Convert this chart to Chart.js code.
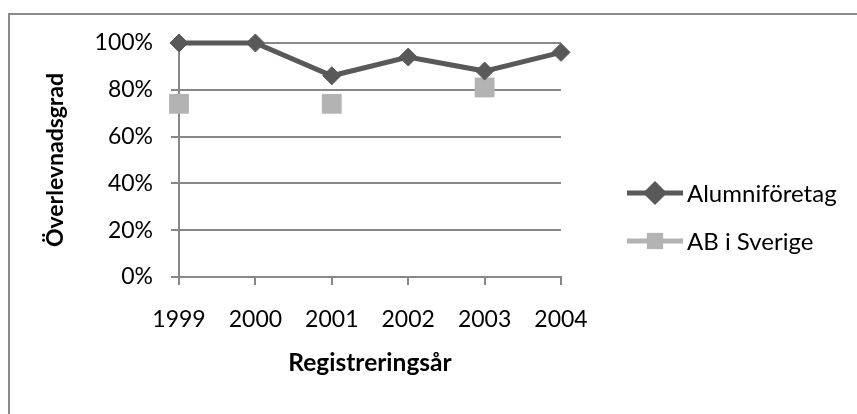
<!DOCTYPE html>
<html>
<head>
<meta charset="utf-8">
<script src="https://cdn.jsdelivr.net/npm/chart.js@4/dist/chart.umd.min.js"></script>
<style>
  html, body { margin: 0; padding: 0; background: #ffffff; }
  #wrap { width: 857px; height: 414px; }
</style>
</head>
<body>
<div id="wrap"><canvas id="c" width="857" height="414"></canvas></div>
<script>
// Registration years and survival rates (percent)
const years = ['1999', '2000', '2001', '2002', '2003', '2004'];
const alumniforetag = [100, 100, 86, 94, 88, 96];
const abISverige = [74, null, 74, null, 81, null];
const seriesNames = ['Alumniföretag', 'AB i Sverige'];
const yTickStep = 20;

const DARK = '#595959';
const LIGHT = '#b3b3b3';
const GRID = '#878787';
const FONT = 'Lato';

// Frame of the chart object (left and top edges)
const framePlugin = {
  id: 'frame',
  beforeDraw(chart) {
    const ctx = chart.ctx;
    ctx.save();
    ctx.strokeStyle = '#8a8a8a';
    ctx.lineWidth = 2;
    ctx.beginPath();
    ctx.moveTo(9, chart.height);
    ctx.lineTo(9, 14);
    ctx.lineTo(chart.width, 14);
    ctx.stroke();
    ctx.restore();
  }
};

// Legend on the right: a short line with the series marker, then the name
const sideLegend = {
  id: 'sideLegend',
  afterDraw(chart) {
    const ctx = chart.ctx;
    const x0 = 627, x1 = 683, tx = 687;
    const rows = [193, 241];
    ctx.save();
    chart.data.datasets.forEach((ds, i) => {
      const y = rows[i];
      ctx.strokeStyle = ds.borderColor;
      ctx.lineWidth = ds.borderWidth;
      ctx.beginPath();
      ctx.moveTo(x0, y);
      ctx.lineTo(x1, y);
      ctx.stroke();
      ctx.fillStyle = ds.pointBackgroundColor;
      ctx.strokeStyle = ds.pointBorderColor;
      Chart.helpers.drawPoint(ctx, {
        pointStyle: ds.pointStyle,
        radius: ds.legendRadius,
        rotation: 0,
        borderWidth: ds.pointBorderWidth
      }, (x0 + x1) / 2, y);
      ctx.fillStyle = '#000000';
      ctx.font = '24px ' + FONT;
      ctx.textAlign = 'left';
      ctx.textBaseline = 'middle';
      ctx.fillText(ds.label, tx, y + 1);
    });
    ctx.restore();
  }
};

new Chart(document.getElementById('c'), {
  type: 'line',
  data: {
    labels: years,
    datasets: [
      {
        label: seriesNames[0],
        data: alumniforetag,
        borderColor: DARK,
        backgroundColor: DARK,
        borderWidth: 5,
        pointStyle: 'rectRot',
        pointRadius: 9,
        pointHoverRadius: 9,
        pointBackgroundColor: DARK,
        pointBorderColor: DARK,
        pointBorderWidth: 1,
        legendRadius: 8.5,
        tension: 0,
        clip: false
      },
      {
        label: seriesNames[1],
        data: abISverige,
        borderColor: LIGHT,
        backgroundColor: LIGHT,
        borderWidth: 5,
        pointStyle: 'rect',
        pointRadius: 14,
        pointHoverRadius: 14,
        pointBackgroundColor: LIGHT,
        pointBorderColor: LIGHT,
        pointBorderWidth: 0,
        legendRadius: 11.5,
        spanGaps: false,
        tension: 0,
        clip: false
      }
    ]
  },
  options: {
    responsive: false,
    animation: false,
    devicePixelRatio: 1,
    layout: { padding: { left: 0, top: 43, right: 296, bottom: 0 } },
    plugins: {
      legend: { display: false },
      tooltip: { enabled: false }
    },
    scales: {
      x: {
        type: 'category',
        offset: false,
        afterFit(scale) { scale.height = 137; },
        grid: {
          display: true,
          drawOnChartArea: false,
          drawTicks: true,
          tickLength: 8,
          color: GRID,
          lineWidth: 2
        },
        border: { display: true, color: GRID, width: 2 },
        ticks: {
          color: '#000000',
          font: { family: FONT, size: 23 },
          padding: 21,
          maxRotation: 0,
          autoSkip: false
        },
        title: {
          display: true,
          text: 'Registreringsår',
          color: '#000000',
          font: { family: FONT, size: 24.5, weight: 'bold' },
          padding: { top: 0, bottom: 36 }
        }
      },
      y: {
        min: 0,
        max: 100,
        afterFit(scale) { scale.width = 179; },
        grid: {
          display: true,
          drawTicks: true,
          tickLength: 8,
          color: GRID,
          lineWidth: 2
        },
        border: { display: true, color: GRID, width: 2 },
        ticks: {
          stepSize: yTickStep,
          color: '#000000',
          font: { family: FONT, size: 23 },
          padding: 18,
          callback: v => v + '%'
        },
        title: {
          display: true,
          text: 'Överlevnadsgrad',
          color: '#000000',
          font: { family: FONT, size: 23, weight: 'bold' },
          padding: { top: 42, bottom: 0 }
        }
      }
    }
  },
  plugins: [framePlugin, sideLegend]
});
</script>
</body>
</html>
